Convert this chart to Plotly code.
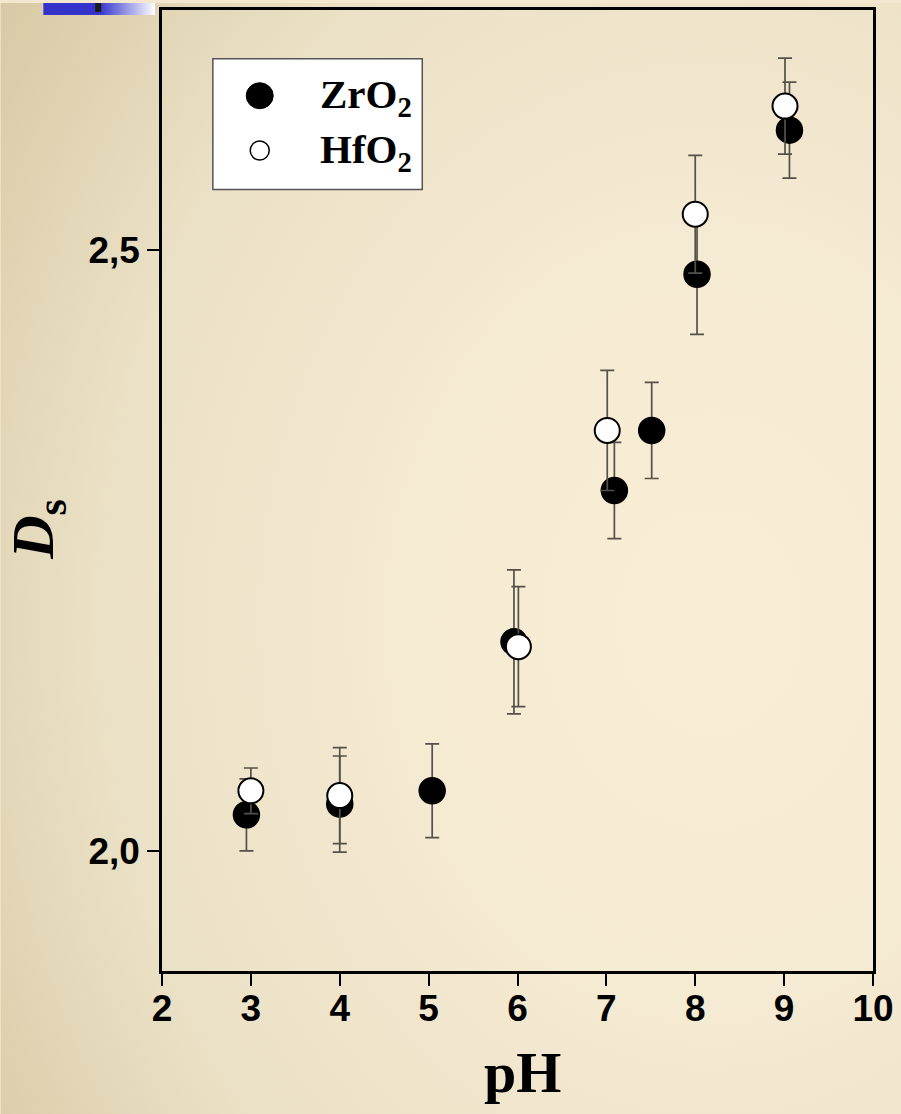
import base64
import plotly.graph_objects as go

# Fractal dimension D_s versus pH for the two oxides
zro2_ph = [2.95, 4.00, 5.04, 5.96, 7.09, 7.51, 8.02, 9.06]
zro2_ds = [2.030, 2.039, 2.050, 2.174, 2.300, 2.350, 2.480, 2.600]
zro2_err = [0.030, 0.040, 0.039, 0.060, 0.040, 0.040, 0.050, 0.040]

hfo2_ph = [3.00, 4.00, 6.01, 7.01, 8.00, 9.01]
hfo2_ds = [2.050, 2.046, 2.170, 2.350, 2.530, 2.620]
hfo2_err = [0.019, 0.040, 0.050, 0.050, 0.049, 0.040]

y_tickvals = [2.0, 2.5]
y_ticktext = ["2,0", "2,5"]
x_tickvals = [2, 3, 4, 5, 6, 7, 8, 9, 10]

W, H = 901, 1114
L, R, T, B = 162, 26, 7, 143
PW, PH = W - L - R, H - T - B
EXTRA = 12  # background overhang past the right/bottom page edge


def px(x):
    return (x - L) / PW


def py(y):
    return (H - B - y) / PH


BW, BH = W + EXTRA, H + EXTRA

# slide-style background: warm radial gradient plus the small title bar
bg_svg = f"""<svg xmlns='http://www.w3.org/2000/svg' width='{BW}' height='{BH}'>
<defs>
<radialGradient id='g' cx='0.78' cy='0.55' r='0.95' gradientUnits='objectBoundingBox'>
<stop offset='0' stop-color='#f9edd5'/>
<stop offset='0.35' stop-color='#f5ead2'/>
<stop offset='0.7' stop-color='#ebe1c6'/>
<stop offset='1' stop-color='#d8caa6'/>
</radialGradient>
<linearGradient id='b' x1='0' x2='1' y1='0' y2='0'>
<stop offset='0' stop-color='#3333cc'/>
<stop offset='0.5' stop-color='#3333cc'/>
<stop offset='1' stop-color='#ffffff'/>
</linearGradient>
</defs>
<rect width='{BW}' height='{BH}' fill='url(#g)'/>
<rect x='43' y='0' width='112' height='12' fill='url(#b)'/>
<rect x='95' y='0' width='6' height='9' fill='#1a1a1a'/>
</svg>"""
bg_uri = "data:image/svg+xml;base64," + base64.b64encode(bg_svg.encode()).decode()

err_color = "#55504a"

fig = go.Figure()
fig.add_trace(go.Scatter(
    x=zro2_ph, y=zro2_ds, mode="markers", name="ZrO2",
    error_y=dict(type="data", array=zro2_err, color=err_color, thickness=1.7, width=7),
    marker=dict(size=26, color="black", line=dict(color="black", width=1.5)),
))
fig.add_trace(go.Scatter(
    x=hfo2_ph, y=hfo2_ds, mode="markers", name="HfO2",
    error_y=dict(type="data", array=hfo2_err, color=err_color, thickness=1.7, width=7),
    marker=dict(size=25, color="white", line=dict(color="black", width=2)),
))

tick_font = dict(family="Liberation Sans", size=37, color="black", weight="bold")
serif = "Liberation Serif"

shapes = [
    # legend frame
    dict(type="rect", xref="paper", yref="paper",
         x0=px(213), x1=px(423), y0=py(187), y1=py(56),
         fillcolor="white", line=dict(color="#555555", width=1.5), layer="above"),
    # legend symbols
    dict(type="circle", xref="paper", yref="paper", xsizemode="pixel", ysizemode="pixel",
         xanchor=px(260), yanchor=py(93), x0=-13.5, x1=13.5, y0=-13, y1=13,
         fillcolor="black", line=dict(color="black", width=1), layer="above"),
    dict(type="circle", xref="paper", yref="paper", xsizemode="pixel", ysizemode="pixel",
         xanchor=px(260), yanchor=py(148), x0=-9.5, x1=9.5, y0=-9.5, y1=9.5,
         fillcolor="white", line=dict(color="black", width=1.5), layer="above"),
]

annotations = [
    dict(text="ZrO<sub>2</sub>", xref="paper", yref="paper", x=px(318), y=py(94),
         xanchor="left", yanchor="middle", showarrow=False,
         font=dict(family=serif, size=41, color="black", weight="bold")),
    dict(text="HfO<sub>2</sub>", xref="paper", yref="paper", x=px(318), y=py(149),
         xanchor="left", yanchor="middle", showarrow=False,
         font=dict(family=serif, size=41, color="black", weight="bold")),
    dict(text="pH", xref="paper", yref="paper", x=px(524), y=py(1073),
         xanchor="center", yanchor="middle", showarrow=False,
         font=dict(family=serif, size=58, color="black", weight="bold")),
    dict(text="<i>D</i><sub>s</sub>", xref="paper", yref="paper", x=px(37), y=py(528),
         xanchor="center", yanchor="middle", showarrow=False, textangle=-90,
         font=dict(family=serif, size=60, color="black", weight="bold")),
]

fig.update_layout(
    width=W, height=H,
    margin=dict(l=L, r=R, t=T, b=B, pad=0),
    paper_bgcolor="#f3e8cf",
    plot_bgcolor="rgba(0,0,0,0)",
    showlegend=False,
    images=[dict(source=bg_uri, xref="paper", yref="paper", x=px(0), y=py(0),
                 sizex=BW / PW, sizey=BH / PH, xanchor="left", yanchor="top",
                 sizing="stretch", layer="below")],
    shapes=shapes,
    annotations=annotations,
    xaxis=dict(range=[2, 10], tickvals=x_tickvals, ticks="outside", ticklen=12,
               tickwidth=2, tickcolor="black", showline=True, linewidth=2.5,
               linecolor="black", mirror=True, showgrid=False, zeroline=False,
               tickfont=tick_font, ticklabelstandoff=-9),
    yaxis=dict(range=[1.9, 2.7], tickvals=y_tickvals, ticktext=y_ticktext,
               ticks="outside", ticklen=12, tickwidth=2, tickcolor="black",
               showline=True, linewidth=2.5, linecolor="black", mirror=True,
               showgrid=False, zeroline=False, tickfont=tick_font),
)

fig.write_html("out.html")
